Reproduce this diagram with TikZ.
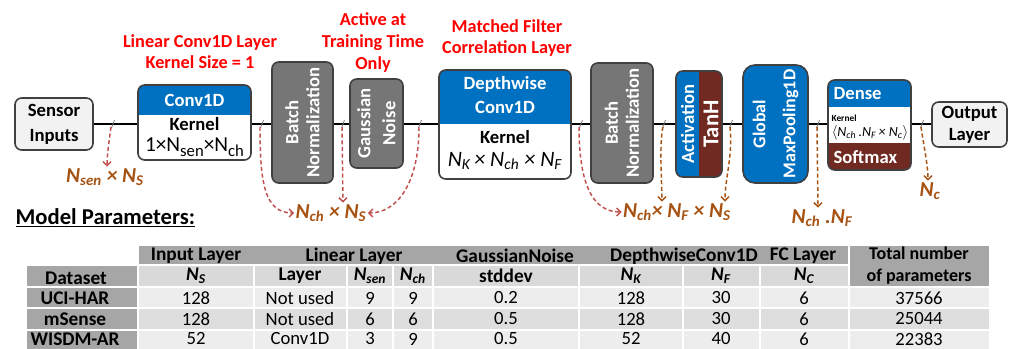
\documentclass[tikz,border=0pt]{standalone}
\usepackage{fontspec}
\setmainfont{Carlito}
\usetikzlibrary{arrows.meta}
\usetikzlibrary{calc}
\usetikzlibrary{fit, positioning}
\definecolor{kblue}{RGB}{0,112,192}
\definecolor{kred}{RGB}{112,42,34}
\definecolor{kgray}{RGB}{118,118,118}
\definecolor{kline}{RGB}{64,64,64}
\definecolor{kpale}{RGB}{242,242,242}
\definecolor{kbrown}{RGB}{166,82,18}
\definecolor{karrow}{RGB}{192,80,77}
\definecolor{thead}{RGB}{166,166,166}
\definecolor{tsub}{RGB}{217,217,217}
\definecolor{trowa}{RGB}{237,237,237}
\definecolor{trowb}{RGB}{222,222,222}
\newcommand{\Nbi}[1]{{\bfseries\itshape N\textsubscript{#1}}}
\newcommand{\sbx}[1]{\raisebox{-0.45ex}{\fontsize{12.5}{13}\selectfont #1}}

\begin{document}
\begin{tikzpicture}[x=0.75pt, y=-0.75pt,
			every node/.style={inner sep=1pt, font=\fontsize{14}{16}\selectfont\bfseries},
			box/.style={draw=kline, line width=1.2pt, rounded corners=5pt, inner sep=0pt},
			note/.style={text=red, align=center, font=\fontsize{13.7}{15.75}\selectfont\bfseries},
			wtext/.style={text=white, align=center},
			dim/.style={text=kbrown, font=\fontsize{16}{18}\selectfont\bfseries\itshape},
			wire/.style={line width=1pt},
			tickmark/.style={gray, line width=0.6pt},
			redarr/.style={karrow, line width=1.1pt, dash pattern=on 3pt off 2pt, -{Straight Barb[length=3pt,width=6pt]}},
			brnarr/.style={kbrown, line width=1.1pt, dash pattern=on 3pt off 2pt, -{Straight Barb[length=3pt,width=6pt]}},
			cell/.style={draw=white, line width=1.2pt},
			thd/.style={font=\fontsize{14.5}{17}\selectfont\bfseries},
			tdat/.style={font=\fontsize{14}{16}\selectfont}
		]
		\useasboundingbox (0,0) rectangle (1009,349);

		% layer boxes
		\node[box, fill=kpale, fit={(15,98) (93,150)}] (sensor) {};
		\node[align=center, font=\fontsize{14}{18.75}\selectfont\bfseries] (sensort) at (sensor) {Sensor\\Inputs};

		\begin{scope}
			\clip[rounded corners=5pt] (138,85) rectangle (251,160);
			\fill[kblue] (138,85) rectangle (251,115);
		\end{scope}
		\node[box, fit={(138,85) (251,160)}] (conv) {};
		\node[wtext] (convh) at (194.5,100) {Conv1D};
		\node (convk) at (194.5,124) {Kernel};
		\node[font=\fontsize{16}{18}\selectfont] (convf) at (194.5,147) {1×N\sbx{sen}×N\sbx{ch}};

		\node[box, fill=kgray, fit={(272,62) (333,183)}] (bn1) {};
		\node[wtext, rotate=90, font=\fontsize{14}{15.75}\selectfont\bfseries] (bn1t) at (bn1) {Batch\\Normalization};

		\node[box, fill=kgray, fit={(350,79) (403,168)}] (gn) {};
		\node[wtext, rotate=90, font=\fontsize{14}{18.75}\selectfont\bfseries] (gnt) at (gn) {Gaussian\\Noise};

		\begin{scope}
			\clip[rounded corners=5pt] (439,70) rectangle (571,179);
			\fill[kblue] (439,70) rectangle (571,124);
		\end{scope}
		\node[box, fit={(439,70) (571,179)}] (dw) {};
		\node[wtext, font=\fontsize{14}{18}\selectfont\bfseries] (dwh) at (505,95) {Depthwise\\Conv1D};
		\node (dwk) at (505,137) {Kernel};
		\node[font=\fontsize{16.5}{18}\selectfont\itshape] (dwf) at (505,161) {N\textsubscript{K}\,× N\textsubscript{ch} × N\textsubscript{F}};

		\node[box, fill=kgray, fit={(591,63) (653,183)}] (bn2) {};
		\node[wtext, rotate=90, font=\fontsize{14}{15.75}\selectfont\bfseries] (bn2t) at (bn2) {Batch\\Normalization};

		\begin{scope}
			\clip[rounded corners=5pt] (676,71) rectangle (722,177);
			\fill[kblue] (676,71) rectangle (699,177);
			\fill[kred] (699,71) rectangle (722,177);
		\end{scope}
		\node[box, fit={(676,71) (722,177)}] (act) {};
		\node[wtext, rotate=90, font=\fontsize{14}{16}\selectfont\bfseries] (actl) at (687.5,124) {Activation};
		\node[wtext, rotate=90, font=\fontsize{17}{18}\selectfont\bfseries] (actr) at (711,124) {TanH};

		\node[box, fill=kblue, rounded corners=9pt, fit={(743,65) (808,183)}] (gmp) {};
		\node[wtext, rotate=90, font=\fontsize{13.5}{22.5}\selectfont\bfseries] (gmpt) at (gmp) {Global\\MaxPooling1D};

		\begin{scope}
			\clip[rounded corners=5pt] (828,80) rectangle (911,170);
			\fill[kblue] (828,80) rectangle (911,107);
			\fill[kred] (828,143) rectangle (911,170);
		\end{scope}
		\node[box, fit={(828,80) (911,170)}] (dense) {};
		\node[wtext, anchor=west] (denseh) at (832,94) {Dense};
		\node[anchor=west, font=\fontsize{7}{8}\selectfont\bfseries] (densek) at (830,118) {Kernel};
		\node[font=\fontsize{10.5}{12}\selectfont\itshape] (densef) at (870,133) {$\langle$N\textsubscript{ch}\,.N\textsubscript{F}\,× N\textsubscript{c}$\rangle$};
		\node[wtext, anchor=west] (denses) at (832,157) {Softmax};

		\node[box, fill=kpale, fit={(932,102) (1007,147)}] (out) {};
		\node[align=center, font=\fontsize{14}{16.5}\selectfont\bfseries] (outt) at (out) {Output\\Layer};

		% red notes
		\node[note] (n1) at (200,52) {Linear Conv1D Layer\\Kernel Size = 1};
		\node[note, font=\fontsize{13.7}{16.5}\selectfont\bfseries] (n2) at (373,43) {Active at\\Training Time\\Only};
		\node[note] (n3) at (507,38) {Matched Filter\\Correlation Layer};

		% data path
		\coordinate (axis) at (0,124);
		\foreach \a/\b in {sensor/conv, conv/bn1, bn1/gn, gn/dw, dw/bn2, bn2/act, act/gmp, gmp/dense, dense/out}
			\draw[wire] (\a.east |- axis) -- (\b.west |- axis);
		\foreach \i/\x in {1/113, 2/262, 3/343, 4/420, 5/581, 6/664, 7/731, 8/818, 9/922} {
				\coordinate (t\i) at (\x,124);
				\draw[tickmark] ($(t\i)+(-1.5,4)$) -- ($(t\i)+(1.5,-4)$);
			}

		% shapes of the tensors
		\node[dim] (nsen) at (105,177) {\Nbi{sen} × \Nbi{S}};
		\node[dim] (nchs) at (331,213) {\Nbi{ch} × \Nbi{S}};
		\node[dim] (nchfs) at (677,212) {\Nbi{ch}× \Nbi{F} × \Nbi{S}};
		\node[dim] (nchf) at (822,218) {\Nbi{ch} .\Nbi{F}};
		\node[dim] (nc) at (930,191) {\Nbi{c}};

		\draw[redarr] ($(t1)+(-2,3)$) .. controls +(-2,15) and +(0,-12) .. ($(nsen.north)+(2,0)$);
		\draw[redarr] ($(t2)+(-2,3)$) .. controls +(0,55) and +(-30,0) .. (nchs.west);
		\draw[redarr] ($(t3)+(-1,3)$) -- (t3 |- nchs.north);
		\draw[redarr] ($(t4)+(-1,3)$) .. controls +(0,55) and +(30,0) .. (nchs.east);
		\draw[redarr] ($(t5)+(-2,3)$) .. controls +(0,55) and +(-30,0) .. (nchfs.west);
		\draw[brnarr] ($(t6)+(-1,3)$) .. controls +(-4,15) and +(0,-15) .. ($(t6 |- nchfs.north)+(-2,0)$);
		\draw[brnarr] ($(t7)+(-1,3)$) .. controls +(3,30) and +(0,-25) .. ($(t7 |- nchfs.north)+(-6,0)$);
		\draw[brnarr] ($(t8)+(-1,3)$) -- (t8 |- nchf.north);
		\draw[brnarr] ($(t9)+(-1,3)$) .. controls +(3,20) and +(0,-15) .. ($(t9 |- nc.north)+(6,0)$);

		% parameter table
		\node[anchor=west, font=\fontsize{17}{19}\selectfont\bfseries] (mp) at (14,218) {\underline{Model Parameters:}};

		\filldraw[cell, fill=thead] (138,245) rectangle (849,265);
		\filldraw[cell, fill=thead] (849,245) rectangle (990,287);
		\filldraw[cell, fill=thead] (26,265) rectangle (138,287);
		\foreach \xa/\xb in {138/254, 254/347, 347/393, 393/433, 433/579, 579/683, 683/760, 760/849}
			\filldraw[cell, fill=tsub] (\xa,265) rectangle (\xb,287);
		\foreach \ya/\yb/\c in {287/308/trowa, 308/330/trowb, 330/352/trowa} {
				\filldraw[cell, fill=thead] (26,\ya) rectangle (138,\yb);
				\foreach \xa/\xb in {138/254, 254/347, 347/393, 393/433, 433/579, 579/683, 683/760, 760/849, 849/990}
					\filldraw[cell, fill=\c] (\xa,\ya) rectangle (\xb,\yb);
			}

		\node[thd] (hin) at (196,256) {Input Layer};
		\node[thd] (hlin) at (354,256) {Linear Layer};
		\node[thd] (hgn) at (515,256) {GaussianNoise};
		\node[thd] (hdw) at (684,256) {DepthwiseConv1D};
		\node[thd] (hfc) at (803,256) {FC Layer};
		\node[align=center, font=\fontsize{13.5}{16.5}\selectfont\bfseries] (htot) at (919,266) {Total number\\of parameters};

		\node[thd] (sds) at (76,278) {Dataset};
		\foreach \n/\x/\t in {sns/196/\Nbi{S}, sly/300/Layer, ssen/370/\Nbi{sen}, sch/413/\Nbi{ch}, ssd/506/stddev, snk/631/\Nbi{K}, snf/721/\Nbi{F}, snc/804/\Nbi{C}}
			\node[thd] (\n) at (\x,276) {\t};

		\foreach \r/\y/\ds/\ns/\ly/\sen/\ch/\sd/\nk/\nf/\nc/\tot in {1/298/UCI-HAR/128/Not used/9/9/0.2/128/30/6/37566, 2/319/mSense/128/Not used/6/6/0.5/128/30/6/25044, 3/339/WISDM-AR/52/Conv1D/3/9/0.5/52/40/6/22383} {
				\node[thd] (d\r) at (75,\y) {\ds};
				\foreach \c/\x/\v in {a/196/\ns, b/300/\ly, c/370/\sen, d/413/\ch, e/506/\sd, f/631/\nk, g/721/\nf, h/804/\nc, i/919/\tot}
					\node[tdat] (v\r\c) at (\x,\y) {\v};
			}
	\end{tikzpicture}
\end{document}
